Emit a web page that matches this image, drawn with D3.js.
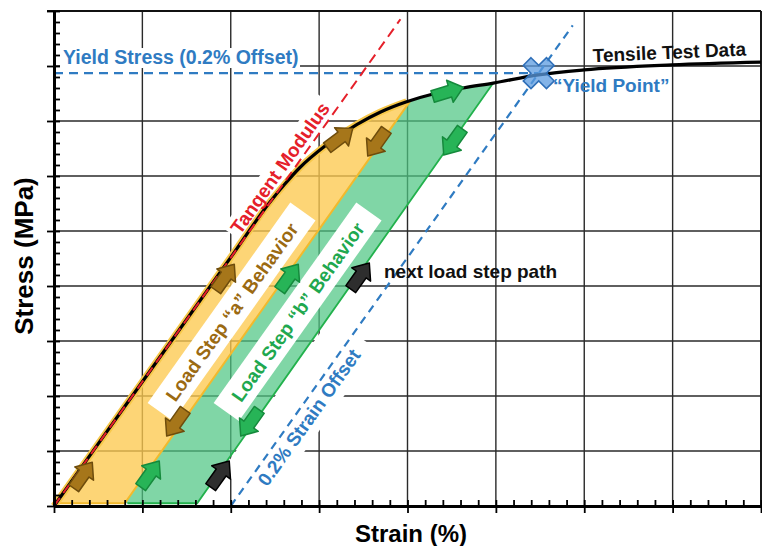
<!DOCTYPE html>
<html><head><meta charset="utf-8">
<script src="https://cdn.jsdelivr.net/npm/d3@7"></script>
<style>
html,body{margin:0;padding:0;background:#fff;}
svg{display:block;}
text{font-family:"Liberation Sans",Arial,sans-serif;font-weight:bold;}
</style>
</head><body>
<svg id="chart" width="762" height="546"></svg>
<script>
// ---------- data ----------
const strainMajorTicks = [0, 0.1, 0.2, 0.3, 0.4, 0.5, 0.6, 0.7, 0.8];
const stressMajorTicks = [0, 100, 200, 300, 400, 500, 600, 700, 800, 900];
const curveStrain = [0, 0.10, 0.20, 0.244, 0.261, 0.278, 0.307, 0.343, 0.369, 0.399, 0.429, 0.463, 0.497, 0.548, 0.600, 0.699, 0.800];
const curveStress = [0, 226, 452, 552, 585, 615, 655, 694, 716, 735, 749, 760, 769, 784, 793, 802, 807];
const tangentStrain = [0, 0.392];
const tangentStress = [0, 885];
const offsetStrain = [0.2, 0.587];
const offsetStress = [0, 874];
const yieldStrain = 0.5485;
const yieldStress = 787;
const stepNames = ["a", "b"];
const stepPeakStrain = [0.403, 0.497];
const stepPeakStress = [736, 769];
const stepBaseStrain = [0.080, 0.162];
const stepBaseStress = [5, 5];
// block arrows: position, direction (data units), colour group
const arrowStrain = [0.0328, 0.1935, 0.3236, 0.3655, 0.1380, 0.1086, 0.2659, 0.4458, 0.4515, 0.2218, 0.1878, 0.3463];
const arrowStress = [56, 416, 669, 660, 151, 58, 416, 753, 662, 151, 58, 418];
const arrowDirStrain = [0.1, 0.1, 0.1, -0.1, -0.1, 0.1, 0.1, 0.1, -0.1, -0.1, 0.1, 0.1];
const arrowDirStress = [226, 226, 122, -226, -226, 226, 226, 48, -226, -226, 226, 226];
const arrowGroup = ["a", "a", "a", "a", "a", "b", "b", "b", "b", "b", "next", "next"];

// ---------- setup ----------
const svg = d3.select("#chart");
const x = d3.scaleLinear().domain([0, 0.8]).range([54, 761]);
const y = d3.scaleLinear().domain([0, 900]).range([506, 11]);
const E = (tangentStress[1] - tangentStress[0]) / (tangentStrain[1] - tangentStrain[0]);
const slopeAngle = Math.atan2(y(E * 0.1) - y(0), x(0.1) - x(0)) * 180 / Math.PI;
const FONT = 19;
const colA = "#9b6a12", colB = "#1fa84f", blue = "#2f7bc2", red = "#e5202a";

const curvePts = curveStrain.map((s, i) => [s, curveStress[i]]);

// ---------- grid ----------
const grid = svg.append("g");
grid.selectAll("line.v").data(strainMajorTicks.slice(1)).join("line")
  .attr("x1", d => x(d)).attr("x2", d => x(d)).attr("y1", y(0)).attr("y2", y(900))
  .attr("stroke", "#2a2a2a").attr("stroke-width", 1.4);
grid.selectAll("line.h").data(stressMajorTicks.slice(1)).join("line")
  .attr("y1", d => y(d)).attr("y2", d => y(d)).attr("x1", x(0)).attr("x2", x(0.8))
  .attr("stroke", "#2a2a2a").attr("stroke-width", 1.4);
svg.append("line").attr("x1", x(0)-7).attr("x2", x(0.8)).attr("y1", y(900)).attr("y2", y(900)).attr("stroke", "#111").attr("stroke-width", 1.8);
svg.append("line").attr("x1", x(0.8)).attr("x2", x(0.8)).attr("y1", y(900)).attr("y2", y(0)).attr("stroke", "#111").attr("stroke-width", 1.8);

// ---------- load step fills ----------
const defs = svg.append("defs");
function unloadAt(i, stress) {
  const k = (stepPeakStress[i] - stepBaseStress[i]) / (stepPeakStrain[i] - stepBaseStrain[i]);
  return stepBaseStrain[i] + (stress - stepBaseStress[i]) / k;
}
const clipPolys = [
  [[-0.05, stepBaseStress[0]], [stepBaseStrain[0], stepBaseStress[0]], [unloadAt(0, 1200), 1200], [-0.05, 1200]],
  [[stepBaseStrain[0], stepBaseStress[1]], [stepBaseStrain[1], stepBaseStress[1]], [unloadAt(1, 1200), 1200], [unloadAt(0, 1200), 1200]]
];
clipPolys.forEach((p, i) => {
  defs.append("clipPath").attr("id", "clip" + i).append("path")
    .attr("d", "M" + p.map(d => [x(d[0]), y(d[1])].join(",")).join("L") + "Z");
});
const area = d3.area().x(d => x(d[0])).y1(d => y(d[1])).y0(d => y(Math.min(5, d[1]))).curve(d3.curveMonotoneX);
const fills = [{c: "#fcc94f", o: 0.78}, {c: "#4fc683", o: 0.72}];
fills.forEach((f, i) => {
  svg.append("path").attr("d", area(curvePts)).attr("fill", f.c).attr("fill-opacity", f.o)
    .attr("clip-path", `url(#clip${i})`);
});

// ---------- white label boxes ----------
function rotBox(cx, cy, len, up, down) {
  return svg.append("rect").attr("x", -len / 2).attr("y", -up).attr("width", len).attr("height", up + down)
    .attr("fill", "#fff").attr("transform", `translate(${cx},${cy}) rotate(${slopeAngle})`);
}
const labelA = [x(0.2014), y(352.7)], labelB = [x(0.2761), y(352.7)];
rotBox(labelA[0], labelA[1], 246, 16, 15);
rotBox(labelB[0], labelB[1], 246, 16, 15);
const offLbl = [x(0.2885), y(160.9)];
rotBox(offLbl[0], offLbl[1], 190, 40, 16);
const tanLbl = [x(0.2557), y(614.5)];
rotBox(tanLbl[0], tanLbl[1], 164, 12, 12);
svg.append("rect").attr("x", x(0.0102) - 3).attr("y", y(803.6) - 16).attr("width", 240).attr("height", 20).attr("fill", "#fff");

// ---------- step edges ----------
const lineD = d3.line().x(d => x(d[0])).y(d => y(d[1]));
svg.append("path").attr("d", lineD([[0.002, 5], [stepBaseStrain[0], 5], [stepPeakStrain[0], stepPeakStress[0]]]))
  .attr("fill", "none").attr("stroke", "#f2b92c").attr("stroke-width", 2);
svg.append("path").attr("d", lineD([[stepBaseStrain[0] + 0.003, 5], [stepBaseStrain[1], 5], [stepPeakStrain[1], stepPeakStress[1]]]))
  .attr("fill", "none").attr("stroke", "#22b14c").attr("stroke-width", 1.8);

// ---------- dashed blue lines ----------
svg.append("path").attr("d", lineD(offsetStrain.map((s, i) => [s, offsetStress[i]])))
  .attr("fill", "none").attr("stroke", blue).attr("stroke-width", 2.2).attr("stroke-dasharray", "8,6");
svg.append("path").attr("d", lineD([[0, yieldStress], [yieldStrain, yieldStress]]))
  .attr("fill", "none").attr("stroke", blue).attr("stroke-width", 2.2).attr("stroke-dasharray", "9,6");

// ---------- stress-strain curve ----------
const curveLine = d3.line().x(d => x(d[0])).y(d => y(d[1])).curve(d3.curveMonotoneX);
svg.append("path").attr("d", curveLine(curvePts.filter(d => d[0] <= stepPeakStrain[0] + 0.001)))
  .attr("fill", "none").attr("stroke", "#f7c84a").attr("stroke-width", 7);
svg.append("path").attr("d", curveLine(curvePts)).attr("fill", "none").attr("stroke", "#000").attr("stroke-width", 3.2);
svg.append("path").attr("d", lineD(tangentStrain.map((s, i) => [s, tangentStress[i]])))
  .attr("fill", "none").attr("stroke", red).attr("stroke-width", 2).attr("stroke-dasharray", "10,6");

// ---------- axes ----------
const axB = svg.append("g").attr("transform", `translate(0,${y(0)})`)
  .call(d3.axisBottom(x).tickValues(strainMajorTicks).tickSizeInner(7).tickSizeOuter(0).tickFormat(""));
const axBm = svg.append("g").attr("transform", `translate(0,${y(0)})`)
  .call(d3.axisTop(x).tickValues(d3.range(0, 0.8001, 0.02)).tickSizeInner(6).tickSizeOuter(0).tickFormat(""));
const axL = svg.append("g").attr("transform", `translate(${x(0)},0)`)
  .call(d3.axisLeft(y).tickValues(stressMajorTicks).tickSizeInner(7).tickSizeOuter(0).tickFormat(""));
const axLm = svg.append("g").attr("transform", `translate(${x(0)},0)`)
  .call(d3.axisRight(y).tickValues(d3.range(0, 900.1, 20)).tickSizeInner(6).tickSizeOuter(0).tickFormat(""));
[axB, axBm, axL, axLm].forEach(a => {
  a.select(".domain").attr("stroke", "#000").attr("stroke-width", 3);
  a.selectAll(".tick line").attr("stroke", "#000").attr("stroke-width", 1.8);
});

// ---------- block arrows ----------
const AL = 32, AHW = 11.5, ASW = 6, AHL = 14;
const arrowShape = [[-AL/2, -ASW], [AL/2 - AHL, -ASW], [AL/2 - AHL, -AHW], [AL/2, 0], [AL/2 - AHL, AHW], [AL/2 - AHL, ASW], [-AL/2, ASW]];
const arrowCol = {a: ["#a6761a", "#6e4c0c"], b: ["#27b457", "#158a3c"], next: ["#2e2e2e", "#000"]};
svg.append("g").selectAll("path").data(arrowStrain.map((s, i) => i)).join("path")
  .attr("d", "M" + arrowShape.map(p => p.join(",")).join("L") + "Z")
  .attr("transform", i => {
    const ang = Math.atan2(y(arrowDirStress[i]) - y(0), x(arrowDirStrain[i]) - x(0)) * 180 / Math.PI;
    return `translate(${x(arrowStrain[i])},${y(arrowStress[i])}) rotate(${ang})`;
  })
  .attr("fill", i => arrowCol[arrowGroup[i]][0]).attr("stroke", i => arrowCol[arrowGroup[i]][1]).attr("stroke-width", 1.5)
  .attr("stroke-linejoin", "round");

// ---------- yield point marker ----------
svg.append("path").attr("d", d3.symbol(d3.symbolCross, 600)())
  .attr("transform", `translate(${x(yieldStrain)},${y(yieldStress)}) rotate(45)`)
  .attr("fill", "#5b9be0").attr("fill-opacity", 0.75).attr("stroke", "#2f6fb8").attr("stroke-width", 1.5);

// ---------- texts ----------
function rotText(cx, cy, txt, col) {
  return svg.append("text").attr("transform", `translate(${cx},${cy}) rotate(${slopeAngle})`)
    .attr("text-anchor", "middle").attr("dy", "0.35em").attr("font-size", FONT).attr("fill", col).text(txt);
}
rotText(labelA[0], labelA[1], "Load Step “a” Behavior", colA);
rotText(labelB[0], labelB[1], "Load Step “b” Behavior", colB);
rotText(tanLbl[0], tanLbl[1], "Tangent Modulus", red);
rotText(offLbl[0], offLbl[1], "0.2% Strain Offset", blue);

svg.append("text").attr("x", x(0.0102)).attr("y", y(803.6)).attr("font-size", 19.5).attr("fill", blue).text("Yield Stress (0.2% Offset)");
svg.append("text").attr("x", x(0.5646)).attr("y", y(752.7)).attr("font-size", FONT).attr("fill", blue).text("“Yield Point”");
svg.append("text").attr("x", x(0.3734)).attr("y", y(414.5)).attr("font-size", FONT).attr("fill", "#111").text("next load step path");
svg.append("text").attr("transform", `translate(${x(0.6099)},${y(807)}) rotate(-2.5)`).attr("font-size", FONT).attr("fill", "#111").text("Tensile Test Data");

// axis titles
svg.append("text").attr("x", 411).attr("y", 542).attr("text-anchor", "middle").attr("font-size", 24).attr("fill", "#000").text("Strain (%)");
svg.append("text").attr("transform", "translate(33,256) rotate(-90)").attr("text-anchor", "middle").attr("font-size", 26).attr("fill", "#000").text("Stress (MPa)");
</script>
</body></html>
